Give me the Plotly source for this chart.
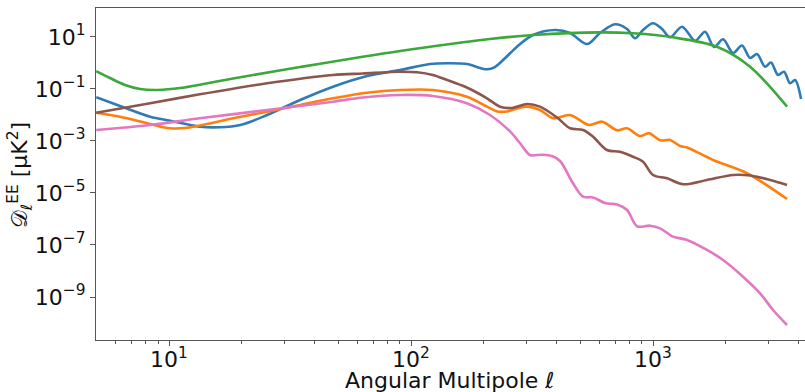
import math
import plotly.graph_objects as go

# EE polarisation spectra, D_ell in muK^2, versus multipole ell

ell_blue = [5.0, 6.27, 8.35, 10.1, 13.4, 16.2, 19.7, 25.4, 34.8, 47.6, 65.8, 90.1, 120, 141, 170, 193, 206,
            222, 245, 274, 319, 394, 454, 534, 604, 697, 781, 843, 909, 1000, 1090, 1176, 1318, 1492, 1640,
            1787, 1947, 2141, 2332, 2517, 2690, 2902, 3073, 3285, 3478, 3683, 3863, 4090]
dl_blue = [0.048, 0.0222, 0.0086, 0.0060, 0.00355, 0.00337, 0.00412, 0.010, 0.0378, 0.1226, 0.316, 0.538,
           0.915, 0.974, 0.915, 0.643, 0.573, 0.70, 1.56, 4.24, 11.9, 18.6, 14.3, 5.38, 14.3, 30.8, 20.3,
           8.91, 18.6, 33.7, 20.3, 9.73, 24.9, 7.2, 16.0, 4.12, 8.16, 2.43, 4.71, 1.56, 2.22, 0.721, 1.045,
           0.345, 0.462, 0.1656, 0.222, 0.0413]

ell_green = [5.0, 5.7, 6.58, 7.59, 9.0, 11.1, 17.9, 34.8, 90.2, 212, 319, 604, 827, 1210, 1837, 2517, 3580]
dl_green = [0.49, 0.265, 0.143, 0.10, 0.092, 0.109, 0.243, 0.70, 2.9, 8.4, 11.9, 15.1, 13.9, 9.7, 4.2,
            0.72, 0.021]

ell_orange = [5.0, 6.27, 8.35, 10.1, 11.9, 18.4, 25.4, 34.8, 47.6, 65.8, 90.1, 123, 170, 206, 227, 249,
              296, 341, 386, 454, 544, 616, 710, 781, 884, 963, 1069, 1176, 1293, 1382, 1770, 2446, 3579]
dl_orange = [0.01226, 0.0086, 0.00451, 0.00308, 0.00325, 0.00746, 0.0134, 0.0243, 0.0439, 0.0721, 0.0916,
             0.0916, 0.0506, 0.0209, 0.01365, 0.01365, 0.0209, 0.01557, 0.00746, 0.010, 0.00412, 0.00552,
             0.00258, 0.00308, 0.001557, 0.001978, 0.001064, 0.00109, 0.000643, 0.000562, 0.000186,
             5.73e-5, 5.87e-6]

ell_brown = [5.0, 8.35, 13.4, 25.4, 47.6, 63.3, 90.1, 106, 123, 141, 170, 206, 233, 261, 302, 341, 401,
             454, 514, 565, 645, 730, 827, 909, 1000, 1143, 1330, 1671, 2141, 2517, 3044, 3579]
dl_brown = [0.01226, 0.0282, 0.0625, 0.1656, 0.345, 0.395, 0.462, 0.439, 0.345, 0.222, 0.1143, 0.0439,
            0.0209, 0.0186, 0.0265, 0.0209, 0.00802, 0.00308, 0.00265, 0.00146, 0.000451, 0.000387,
            0.000249, 0.00016, 4.92e-5, 3.67e-5, 2.18e-5, 3.16e-5, 4.92e-5, 4.71e-5, 3.16e-5, 2.03e-5]

ell_pink = [5.0, 8.35, 13.4, 25.4, 47.6, 63.3, 90.1, 123, 170, 212, 257, 282, 310, 348, 382, 413, 467,
            514, 565, 634, 710, 781, 859, 972, 1069, 1209, 1382, 1671, 1947, 2354, 2768, 3133, 3579]
dl_pink = [0.00265, 0.00412, 0.00746, 0.01557, 0.0325, 0.0471, 0.0588, 0.0538, 0.0282, 0.010, 0.00228,
           0.000817, 0.00029, 0.000297, 0.000265, 0.00017, 2.36e-5, 7.2e-6, 6.71e-6, 4.12e-6, 3.61e-6,
           2.22e-6, 5.24e-7, 5.52e-7, 4.38e-7, 2.09e-7, 1.56e-7, 6.43e-8, 2.65e-8, 6.04e-9, 1.39e-9,
           3.16e-10, 8.37e-11]

x_major = [10, 100, 1000]
x_major_text = ["10<sup>1</sup>", "10<sup>2</sup>", "10<sup>3</sup>"]
x_minor = [6, 7, 8, 9, 20, 30, 40, 50, 60, 70, 80, 90, 200, 300, 400, 500, 600, 700, 800, 900,
           2000, 3000, 4000, 5000]
y_major = [1e1, 1e-1, 1e-3, 1e-5, 1e-7, 1e-9]
y_major_text = ["10<sup>1</sup>", "10<sup>\u22121</sup>", "10<sup>\u22123</sup>", "10<sup>\u22125</sup>",
                "10<sup>\u22127</sup>", "10<sup>\u22129</sup>"]

series = [
    (ell_blue, dl_blue, "#2f7bb6"),
    (ell_green, dl_green, "#3aa83a"),
    (ell_orange, dl_orange, "#ff7f0e"),
    (ell_brown, dl_brown, "#8c564b"),
    (ell_pink, dl_pink, "#e377c2"),
]

fig = go.Figure()
for ell, dl, col in series:
    fig.add_trace(go.Scatter(x=ell, y=dl, mode="lines",
                             line=dict(color=col, width=2.6, shape="spline", smoothing=0.9),
                             showlegend=False, hoverinfo="skip"))

axis_col = "#555555"
font = dict(family="DejaVu Sans", size=22, color="#111111")

# x tick labels placed as annotations so they sit snugly under the ticks
x_tick_labels = [
    dict(text=t, xref="x", yref="paper", x=math.log10(v), y=-0.006, xanchor="center",
         yanchor="top", showarrow=False, font=font)
    for v, t in zip(x_major, x_major_text)
]

fig.update_layout(
    width=805, height=392,
    margin=dict(l=96, r=0, t=8, b=52),
    paper_bgcolor="white", plot_bgcolor="white",
    font=font,
    xaxis=dict(type="log", range=[0.698, 3.628], showgrid=False, zeroline=False,
               showline=True, linecolor=axis_col, linewidth=1.2, mirror=True,
               ticks="outside", ticklen=5, tickcolor=axis_col, tickwidth=1,
               tickmode="array", tickvals=x_major, ticktext=x_major_text,
               showticklabels=False,
               minor=dict(tickmode="array", tickvals=x_minor, ticks="outside", ticklen=3,
                          tickcolor=axis_col, tickwidth=0.8, showgrid=False)),
    yaxis=dict(type="log", range=[-10.654, 2.115], showgrid=False, zeroline=False,
               showline=True, linecolor=axis_col, linewidth=1.2, mirror=False,
               ticks="outside", ticklen=5, tickcolor=axis_col, tickwidth=1,
               tickmode="array", tickvals=y_major, ticktext=y_major_text,
               tickfont=font),
    annotations=x_tick_labels + [
        dict(text="Angular Multipole \u2113", xref="paper", yref="paper", x=0.499, y=-0.122,
             xanchor="center", yanchor="middle", showarrow=False, font=font),
        dict(text="\U0001D49F<sub>\u2113</sub><sup>EE</sup> [\u03bcK<sup>2</sup>]", xref="paper",
             yref="paper", x=-0.107, y=0.497, xanchor="center", yanchor="middle",
             textangle=-90, showarrow=False, font=font),
    ],
)

fig.write_html("out.html")
